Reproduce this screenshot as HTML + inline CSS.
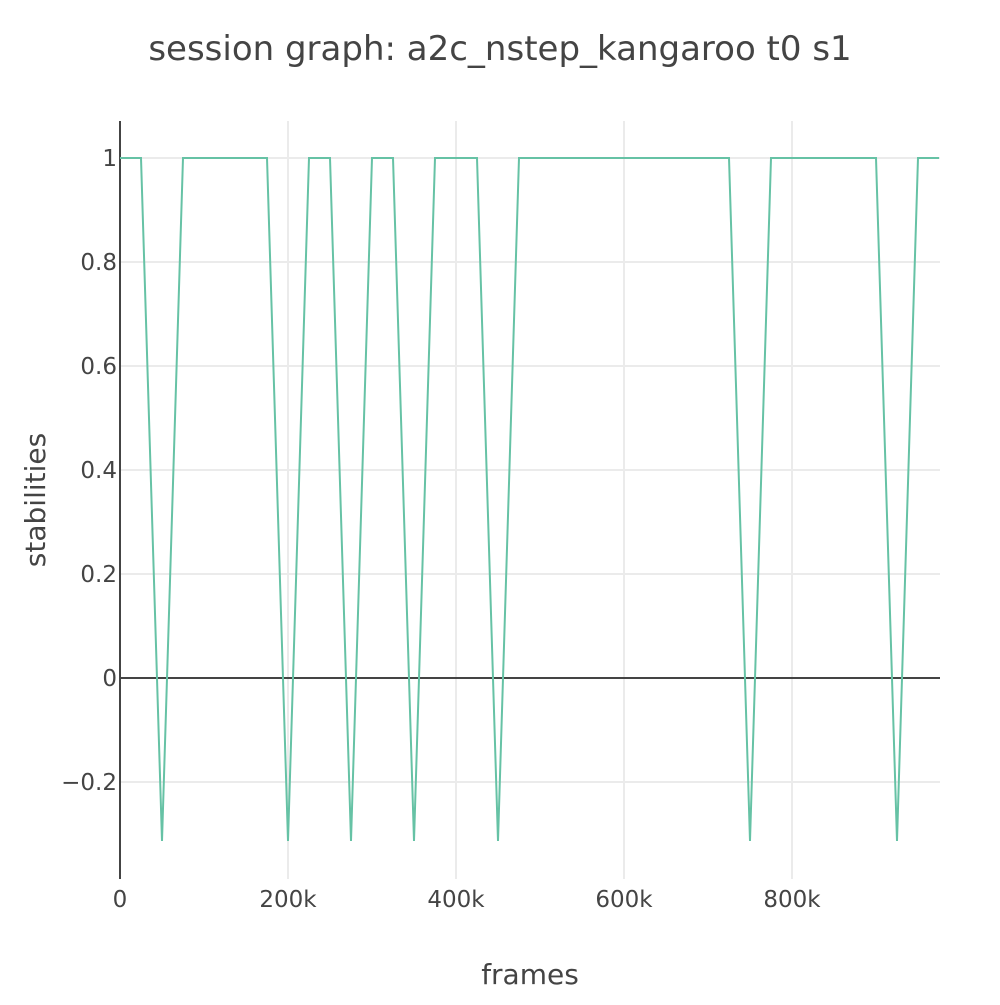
<!DOCTYPE html>
<html><head><meta charset="utf-8"><style>
body{margin:0;background:#fff;}
text{font-family:"DejaVu Sans","Liberation Sans",sans-serif;fill:#444;}
</style></head><body>
<svg width="1000" height="1000" xmlns="http://www.w3.org/2000/svg">
<text x="500" y="60" text-anchor="middle" font-size="34">session graph: a2c_nstep_kangaroo t0 s1</text>
<g id="grid"></g>
<g id="axes"></g>
<path id="line" fill="none" stroke="#66c2a5" stroke-width="2"/>
<text x="530" y="984" text-anchor="middle" font-size="28">frames</text>
<text transform="translate(45,500) rotate(-90)" text-anchor="middle" font-size="28">stabilities</text>
</svg>
<script>
const frames=[0,25,50,75,100,125,150,175,200,225,250,275,300,325,350,375,400,425,450,475,500,525,550,575,600,625,650,675,700,725,750,775,800,825,850,875,900,925,950,975];
const L=-0.3135;
const stabilities=[1,1,L,1,1,1,1,1,L,1,1,L,1,1,L,1,1,1,L,1,1,1,1,1,1,1,1,1,1,1,L,1,1,1,1,1,1,L,1,1];
const xTicks=[0,200,400,600,800];
const xTickLabels=["0","200k","400k","600k","800k"];
const yTicks=[-0.2,0,0.2,0.4,0.6,0.8,1];
const yTickLabels=["\u22120.2","0","0.2","0.4","0.6","0.8","1"];
const X0=120,X1=940,Y0=121,Y1=879;
const xs=v=>120+v*0.84;
const ys=v=>678-v*520;
const ns="http://www.w3.org/2000/svg";
const grid=document.getElementById('grid'),axes=document.getElementById('axes');
function mk(tag,attrs,parent){const e=document.createElementNS(ns,tag);for(const k in attrs)e.setAttribute(k,attrs[k]);parent.appendChild(e);return e;}
xTicks.forEach((t,i)=>{
  if(t>0){const g=mk('line',{x1:xs(t),x2:xs(t),y1:Y0,y2:Y1,stroke:'#ebebeb','stroke-width':2},grid);
  
  }
  const l=mk('text',{x:xs(t),y:907,'text-anchor':'middle','font-size':23},axes);l.textContent=xTickLabels[i];
  
  
});
yTicks.forEach((t,i)=>{
  if(t!==0){const g=mk('line',{x1:X0,x2:X1,y1:ys(t),y2:ys(t),stroke:'#ebebeb','stroke-width':2},grid);
  
  }
  const l=mk('text',{x:117,y:ys(t)+8,'text-anchor':'end','font-size':23},axes);l.textContent=yTickLabels[i];
  
  
});
const z=mk('line',{x1:X0,x2:X1,y1:ys(0),y2:ys(0),stroke:'#444','stroke-width':2},axes);


const ya=mk('line',{x1:X0,x2:X0,y1:Y0,y2:Y1,stroke:'#444','stroke-width':2},axes);


document.getElementById('line').setAttribute('d',frames.map((f,i)=>(i?'L':'M')+xs(f)+','+ys(stabilities[i])).join(''));
</script>
</body></html>
